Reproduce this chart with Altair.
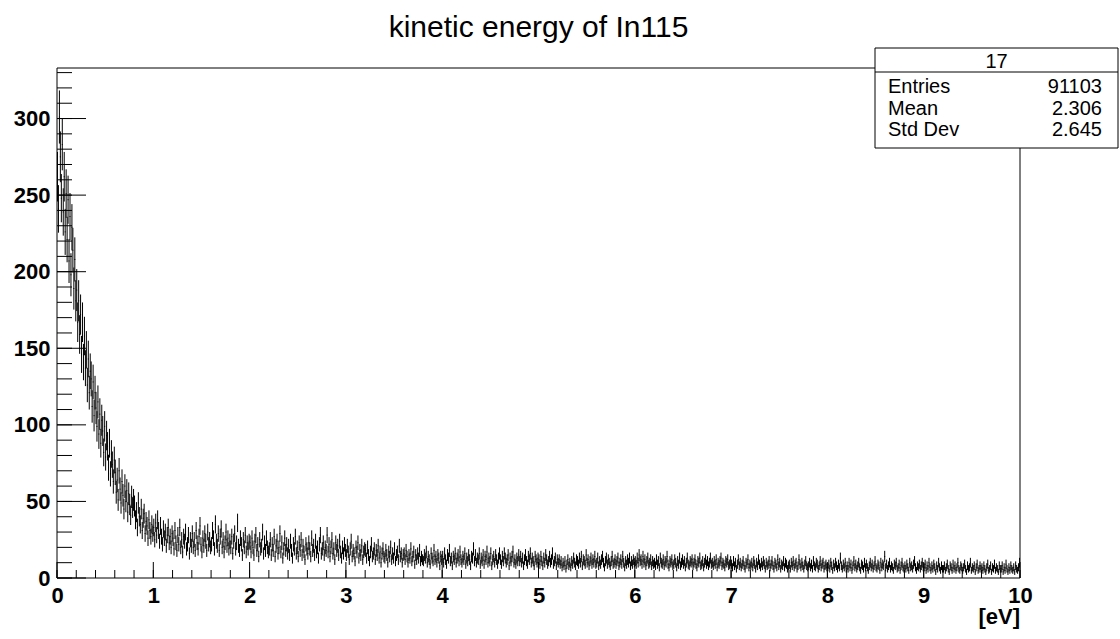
import altair as alt
import pandas as pd
import numpy as np

title_text = "kinetic energy of In115"
x_unit_label = "[eV]"
stats_name = "17"
stats_labels = ["Entries", "Mean", "Std Dev"]
stats_values = ["91103", "2.306", "2.645"]

# bin contents, 0.01 eV bins, one list per eV
counts_0_1 = [
    262, 241, 301, 275, 248, 283, 239, 262, 226, 251, 221, 247, 207, 236, 198, 229, 214, 189, 208, 181,
    188, 167, 181, 159, 172, 146, 167, 141, 158, 137, 149, 126, 143, 121, 135, 130, 112, 128, 106, 121,
    111, 99, 115, 94, 107, 88, 103, 96, 82, 99, 79, 93, 86, 72, 88, 68, 81, 74, 63, 77,
    69, 56, 64, 51, 70, 58, 49, 63, 54, 45, 60, 50, 57, 43, 55, 48, 41, 53, 46, 51,
    47, 38, 43, 33, 49, 40, 35, 45, 31, 39, 42, 29, 37, 34, 26, 38, 31, 27, 35, 29,
]
counts_1_2 = [
    33, 25, 36, 28, 38, 31, 24, 34, 27, 22, 32, 26, 30, 21, 28, 33, 23, 27, 20, 29,
    26, 19, 31, 23, 18, 28, 22, 33, 20, 25, 17, 27, 24, 30, 19, 22, 28, 16, 25, 21,
    29, 20, 25, 18, 31, 23, 19, 27, 34, 22, 17, 26, 21, 29, 24, 18, 30, 22, 25, 20,
    22, 31, 26, 19, 35, 24, 21, 29, 18, 27, 32, 20, 25, 17, 23, 30, 21, 26, 19, 24,
    20, 27, 16, 24, 29, 19, 23, 36, 21, 18, 26, 22, 15, 25, 20, 28, 17, 23, 19, 24,
]
counts_2_3 = [
    23, 17, 26, 20, 15, 24, 28, 18, 22, 14, 25, 19, 21, 30, 16, 23, 18, 26, 20, 17,
    19, 25, 15, 22, 18, 27, 14, 21, 24, 16, 20, 29, 17, 23, 13, 19, 26, 18, 22, 16,
    21, 15, 24, 18, 13, 22, 19, 27, 16, 20, 14, 23, 18, 25, 15, 21, 17, 12, 22, 19,
    16, 23, 19, 14, 26, 18, 21, 15, 24, 17, 20, 13, 22, 28, 16, 19, 23, 15, 20, 18,
    28, 17, 22, 14, 20, 25, 16, 19, 12, 23, 18, 21, 15, 24, 17, 13, 20, 16, 22, 18,
]
counts_3_4 = [
    15, 21, 17, 12, 19, 24, 14, 18, 16, 11, 20, 17, 23, 13, 18, 15, 21, 12, 17, 19,
    18, 13, 20, 15, 11, 17, 22, 14, 16, 19, 12, 18, 15, 21, 13, 17, 10, 16, 19, 14,
    13, 18, 15, 10, 17, 14, 20, 12, 16, 13, 19, 11, 15, 17, 12, 21, 14, 16, 10, 15,
    16, 12, 18, 14, 10, 15, 13, 19, 11, 14, 17, 9, 15, 12, 16, 13, 18, 11, 14, 12,
    11, 15, 13, 17, 10, 14, 12, 9, 16, 13, 11, 18, 12, 14, 10, 15, 13, 8, 14, 12,
]
counts_4_5 = [
    14, 10, 16, 12, 9, 15, 13, 18, 11, 13, 8, 14, 12, 16, 10, 13, 15, 11, 17, 12,
    10, 14, 12, 16, 9, 13, 11, 15, 12, 8, 14, 13, 19, 11, 15, 10, 13, 12, 16, 9,
    13, 11, 15, 9, 14, 12, 17, 10, 13, 11, 16, 8, 12, 14, 10, 15, 12, 9, 13, 16,
    12, 9, 14, 11, 16, 13, 10, 12, 15, 8, 13, 11, 14, 17, 10, 12, 9, 13, 11, 15,
    11, 14, 10, 13, 8, 12, 15, 11, 9, 14, 12, 16, 10, 13, 11, 8, 14, 12, 10, 13,
]
counts_5_6 = [
    12, 9, 14, 11, 8, 13, 10, 15, 12, 9, 11, 14, 10, 12, 16, 9, 11, 13, 8, 12,
    10, 12, 9, 11, 7, 10, 8, 11, 6, 9, 12, 8, 10, 7, 11, 9, 13, 10, 8, 12,
    11, 9, 13, 10, 14, 8, 12, 11, 9, 15, 10, 12, 8, 11, 13, 9, 12, 10, 14, 9,
    10, 13, 8, 11, 9, 12, 14, 10, 7, 11, 13, 9, 12, 10, 8, 11, 14, 9, 10, 12,
    9, 11, 13, 8, 10, 12, 9, 14, 10, 7, 11, 9, 12, 10, 13, 8, 11, 9, 12, 10,
]
counts_6_7 = [
    11, 9, 13, 10, 15, 11, 12, 9, 14, 10, 12, 8, 11, 13, 9, 10, 12, 8, 11, 9,
    10, 8, 12, 9, 11, 7, 13, 10, 9, 12, 8, 11, 10, 14, 9, 7, 11, 10, 12, 8,
    9, 12, 10, 7, 11, 9, 13, 8, 10, 12, 9, 11, 7, 10, 13, 9, 8, 11, 10, 12,
    8, 10, 12, 9, 7, 11, 10, 13, 8, 9, 11, 7, 10, 12, 9, 11, 8, 10, 13, 9,
    10, 8, 11, 9, 12, 7, 10, 9, 11, 13, 8, 10, 9, 7, 11, 10, 12, 8, 9, 11,
]
counts_7_8 = [
    9, 7, 11, 8, 10, 6, 9, 12, 8, 10, 7, 9, 11, 8, 6, 10, 9, 12, 7, 9,
    8, 10, 7, 11, 9, 6, 10, 8, 12, 9, 7, 10, 8, 11, 9, 6, 10, 8, 9, 11,
    7, 9, 11, 8, 6, 10, 9, 7, 12, 8, 10, 6, 9, 8, 11, 7, 10, 9, 6, 8,
    9, 6, 10, 8, 11, 7, 9, 10, 6, 8, 12, 9, 7, 10, 8, 6, 9, 11, 8, 7,
    8, 10, 7, 9, 6, 11, 8, 7, 10, 9, 6, 8, 11, 7, 9, 10, 6, 8, 9, 7,
]
counts_8_9 = [
    7, 9, 6, 10, 8, 5, 9, 7, 10, 8, 6, 9, 7, 13, 8, 6, 9, 7, 10, 6,
    8, 6, 10, 7, 9, 5, 8, 11, 7, 9, 6, 8, 10, 7, 5, 9, 8, 6, 10, 7,
    9, 7, 5, 8, 10, 7, 9, 6, 8, 11, 7, 6, 9, 8, 5, 10, 7, 9, 8, 14,
    7, 9, 6, 8, 10, 6, 8, 7, 5, 9, 8, 10, 6, 7, 9, 5, 8, 10, 7, 6,
    8, 6, 9, 7, 5, 10, 7, 8, 6, 9, 11, 7, 5, 8, 7, 9, 6, 8, 10, 7,
]
counts_9_10 = [
    7, 9, 5, 8, 6, 10, 7, 5, 8, 6, 9, 7, 4, 8, 6, 10, 7, 5, 8, 6,
    6, 8, 5, 7, 9, 6, 4, 8, 7, 5, 9, 6, 8, 5, 7, 10, 6, 5, 8, 7,
    5, 7, 9, 6, 4, 8, 6, 7, 10, 5, 7, 6, 8, 4, 7, 9, 5, 6, 8, 6,
    7, 5, 8, 6, 4, 7, 9, 5, 6, 8, 4, 7, 6, 9, 5, 7, 6, 4, 8, 6,
    6, 8, 4, 7, 5, 9, 6, 4, 7, 5, 8, 6, 5, 7, 4, 8, 6, 5, 7, 10,
]

x_min, x_max = 0.0, 10.0
bin_width = 0.01
y_max = 333
y_major = [0, 50, 100, 150, 200, 250, 300]
y_minor = list(range(0, 331, 10))
x_major = list(range(0, 11))
x_minor = [round(0.2 * i, 1) for i in range(51)]

counts = np.array(
    counts_0_1 + counts_1_2 + counts_2_3 + counts_3_4 + counts_4_5
    + counts_5_6 + counts_6_7 + counts_7_8 + counts_8_9 + counts_9_10,
    dtype=float,
)
idx = np.arange(len(counts))
err = np.sqrt(counts)
df = pd.DataFrame({
    "x": x_min + (idx + 0.5) * bin_width,
    "xl": x_min + idx * bin_width,
    "xh": x_min + (idx + 1) * bin_width,
    "y": counts,
    "lo": counts - err,
    "hi": counts + err,
})

W, H = 963, 510
FONT = "Liberation Sans"

xs = alt.Scale(domain=[x_min, x_max], nice=False, zero=False)
ys = alt.Scale(domain=[0, y_max], nice=False)

x_axis = alt.Axis(values=x_major, labelFontSize=22, labelFontWeight="bold", labelFont=FONT,
                  labelColor="black", ticks=False, tickSize=0, domain=False, grid=False,
                  labelPadding=7, title=None, labelOverlap=False, labelFlush=False)
y_axis = alt.Axis(values=y_major, labelFontSize=22, labelFontWeight="bold", labelFont=FONT,
                  labelColor="black", ticks=False, tickSize=0, domain=False, grid=False,
                  labelPadding=7, title=None, labelOverlap=False, labelFlush=False)

one = pd.DataFrame({"a": [1]})

frame = alt.Chart(one).mark_rect(fillOpacity=0, stroke="black", strokeWidth=1).encode(
    x=alt.value(0), x2=alt.value(W), y=alt.value(0), y2=alt.value(H))

bars = alt.Chart(df).mark_rule(color="black", strokeWidth=1).encode(
    x=alt.X("x:Q", scale=xs, axis=x_axis),
    y=alt.Y("lo:Q", scale=ys, axis=y_axis),
    y2="hi:Q",
)
hbars = alt.Chart(df).mark_rule(color="black", strokeWidth=1).encode(
    x=alt.X("xl:Q", scale=xs, axis=x_axis),
    x2="xh:Q",
    y=alt.Y("y:Q", scale=ys, axis=y_axis),
)

ymaj = alt.Chart(pd.DataFrame({"v": y_major})).mark_rule(color="black", strokeWidth=1).encode(
    y=alt.Y("v:Q", scale=ys, axis=y_axis), x=alt.value(0), x2=alt.value(29))
ymin = alt.Chart(pd.DataFrame({"v": y_minor})).mark_rule(color="black", strokeWidth=1).encode(
    y=alt.Y("v:Q", scale=ys, axis=y_axis), x=alt.value(0), x2=alt.value(15))
xmaj = alt.Chart(pd.DataFrame({"v": x_major})).mark_rule(color="black", strokeWidth=1).encode(
    x=alt.X("v:Q", scale=xs, axis=x_axis), y=alt.value(H), y2=alt.value(H - 16))
xmin = alt.Chart(pd.DataFrame({"v": x_minor})).mark_rule(color="black", strokeWidth=1).encode(
    x=alt.X("v:Q", scale=xs, axis=x_axis), y=alt.value(H), y2=alt.value(H - 8))

title = alt.Chart(one).mark_text(fontSize=30, font=FONT, align="center", baseline="alphabetic",
                                 color="black").encode(
    text=alt.value(title_text), x=alt.value(W / 2), y=alt.value(-31))

unit = alt.Chart(one).mark_text(fontSize=22, font=FONT, fontWeight="bold", align="right",
                                baseline="alphabetic", color="black").encode(
    text=alt.value(x_unit_label), x=alt.value(W), y=alt.value(556))

# statistics box
box = alt.Chart(one).mark_rect(fill="white", stroke="black", strokeWidth=1).encode(
    x=alt.value(818), x2=alt.value(1061), y=alt.value(-20), y2=alt.value(80))
divider = alt.Chart(one).mark_rule(color="black", strokeWidth=1).encode(
    x=alt.value(818), x2=alt.value(1061), y=alt.value(4))
stats_layers = [
    alt.Chart(one).mark_text(fontSize=20, font=FONT, align="center", baseline="alphabetic",
                             color="black").encode(
        text=alt.value(stats_name), x=alt.value(939.5), y=alt.value(0))
]
for i, (lab, val) in enumerate(zip(stats_labels, stats_values)):
    stats_layers.append(
        alt.Chart(one).mark_text(fontSize=20, font=FONT, align="left", baseline="alphabetic",
                                 color="black").encode(
            text=alt.value(lab), x=alt.value(831), y=alt.value(25 + 21.5 * i)))
    stats_layers.append(
        alt.Chart(one).mark_text(fontSize=20, font=FONT, align="right", baseline="alphabetic",
                                 color="black").encode(
            text=alt.value(val), x=alt.value(1045), y=alt.value(25 + 21.5 * i)))

chart = alt.layer(
    frame, bars, hbars, ymaj, ymin, xmaj, xmin, title, unit, box, divider, *stats_layers
).properties(
    width=W, height=H,
    padding={"left": 57, "top": 68, "right": 100, "bottom": 61},
    autosize=alt.AutoSizeParams(type="none"),
    background="white",
).configure_view(stroke=None)

chart.save("out.html", embed_options={"renderer": "svg", "actions": False})
